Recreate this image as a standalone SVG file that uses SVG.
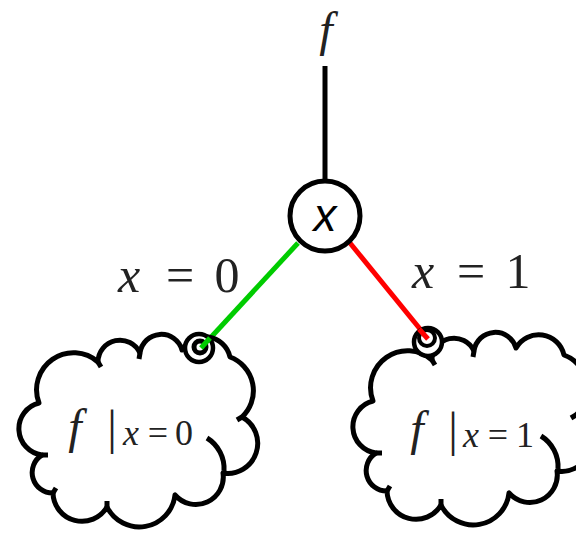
<svg xmlns="http://www.w3.org/2000/svg" width="576" height="533" viewBox="0 0 576 533">
<style>
.m{font-family:"Liberation Serif",serif;font-style:italic;fill:#222}
.n{font-family:"Liberation Serif",serif;fill:#222}
.cl{fill:#fff;stroke:#000;stroke-width:5;stroke-linejoin:round}
.tk{fill:none;stroke:#000;stroke-width:5}
.e{fill:none;stroke-width:5}
</style>
<defs>
<g id="cloud">
<path class="cl" d="M39,403 A37,37 0 0 1 98,362 A22,22 0 0 1 140,353 A21.5,21.5 0 0 1 182,350 A26,26 0 0 1 230,357 A36,36 0 0 1 242,417 A30,30 0 0 1 223,473 A27.5,27.5 0 0 1 175,495 A36,36 0 0 1 107,507 A29,29 0 0 1 53,493 A20.5,20.5 0 0 1 42,455 A26.5,26.5 0 0 1 39,403 Z"/>
<path class="tk" d="M207,438 A36,36 0 0 1 224,471"/>
<path class="tk" d="M98,362 L101,367"/>
<path class="tk" d="M242,417 L237,420"/>
<path class="tk" d="M107,507 L107,501"/>
<path class="tk" d="M53,493 L56,488"/>
<path class="tk" d="M42,455 L48,455"/>
<path class="tk" d="M140,353 L139,359"/>
</g>
</defs>
<g id="connectors">
<line class="e" x1="325" y1="66" x2="325" y2="181" stroke="#000"/>
<line class="e" x1="298" y1="243" x2="202" y2="347" stroke="#00cc00"/>
<line class="e" x1="350" y1="243" x2="429" y2="340" stroke="#ff0000"/>
</g>
<g id="label-f"><text class="m" x="326" y="46" font-size="48" text-anchor="middle">f</text></g>
<g id="label-x0">
<text class="m" x="129" y="292" font-size="50" text-anchor="middle">x</text>
<text class="n" x="180" y="292" font-size="50" text-anchor="middle">=</text>
<text class="n" x="227" y="292" font-size="50" text-anchor="middle">0</text>
</g>
<g id="label-x1">
<text class="m" x="423" y="288" font-size="50" text-anchor="middle">x</text>
<text class="n" x="471" y="288" font-size="50" text-anchor="middle">=</text>
<text class="n" x="518" y="288" font-size="50" text-anchor="middle">1</text>
</g>
<g id="node-x">
<circle cx="325" cy="216" r="35" fill="#fff" stroke="#000" stroke-width="5"/>
<text x="325" y="231" font-family="Liberation Sans, sans-serif" font-style="italic" font-size="46" text-anchor="middle" fill="#000">x</text>
</g>
<g id="cloud-0">
<use href="#cloud"/>
<circle cx="199" cy="348" r="14" fill="#fff" stroke="#000" stroke-width="4.5"/>
<circle cx="200" cy="347" r="6" fill="#fff" stroke="#000" stroke-width="5"/>
<line x1="210" y1="338" x2="201" y2="348" stroke="#00cc00" stroke-width="5"/>
<text class="m" x="75" y="443" font-size="48" text-anchor="middle">f</text>
<text class="n" x="112" y="444" font-size="48" text-anchor="middle">|</text>
<text class="m" x="131" y="445" font-size="36" text-anchor="middle">x</text>
<text class="n" x="158" y="445" font-size="36" text-anchor="middle">=</text>
<text class="n" x="184" y="445" font-size="36" text-anchor="middle">0</text>
</g>
<g id="cloud-1">
<use href="#cloud" transform="translate(334,-2)"/>
<circle cx="428" cy="342" r="14" fill="#fff" stroke="#000" stroke-width="4.5"/>
<circle cx="427" cy="338" r="8" fill="none" stroke="#000" stroke-width="4"/>
<line x1="419" y1="329" x2="428" y2="339" stroke="#ff0000" stroke-width="5"/>
<text class="m" x="417" y="445" font-size="48" text-anchor="middle">f</text>
<text class="n" x="453" y="446" font-size="48" text-anchor="middle">|</text>
<text class="m" x="471" y="447" font-size="36" text-anchor="middle">x</text>
<text class="n" x="498" y="447" font-size="36" text-anchor="middle">=</text>
<text class="n" x="525" y="447" font-size="36" text-anchor="middle">1</text>
</g>
</svg>
